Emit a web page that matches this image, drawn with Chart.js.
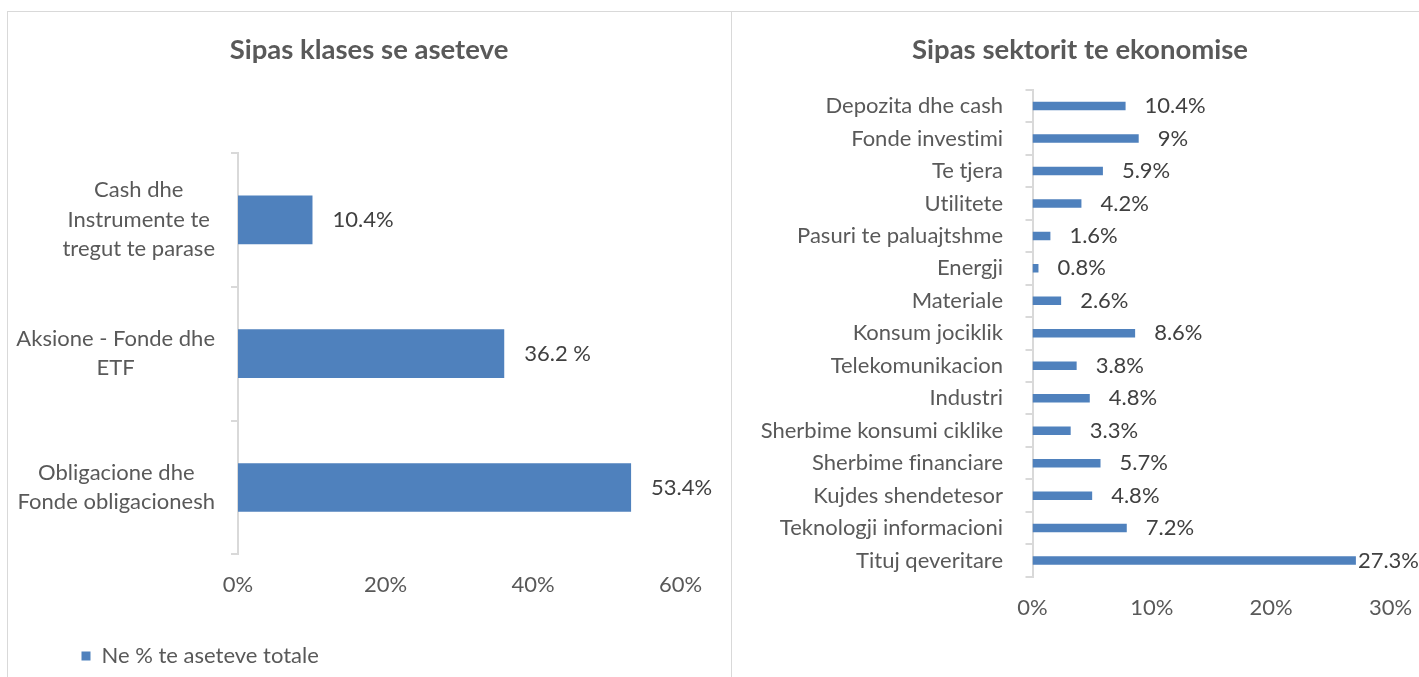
<!DOCTYPE html>
<html>
<head>
<meta charset="utf-8">
<script src="https://cdn.jsdelivr.net/npm/chart.js@4.4.1/dist/chart.umd.min.js"></script>
<style>
  html, body { margin: 0; padding: 0; background: #fff; }
  body { width: 1419px; height: 677px; position: relative; overflow: hidden; }
  .frame { position: absolute; left: 7px; top: 11px; width: 1420px; height: 680px;
           border-left: 1px solid #d9d9d9; border-top: 1px solid #d9d9d9; }
  .divider { position: absolute; left: 731px; top: 11px; width: 1px; height: 670px; background: #d9d9d9; }
  canvas { position: absolute; }
  #classChart { left: 9px; top: 12px; }
  #sectorChart { left: 732px; top: 12px; }
</style>
</head>
<body>
<div class="frame"></div>
<div class="divider"></div>
<canvas id="classChart" width="721" height="665"></canvas>
<canvas id="sectorChart" width="687" height="665"></canvas>
<script>
// Asset classes (left chart)
const classLabels = [
  ["Cash dhe", "Instrumente te", "tregut te parase"],
  ["Aksione - Fonde dhe", "ETF"],
  ["Obligacione dhe", "Fonde obligacionesh"]
];
const classValues = [10.1, 36.1, 53.3];
const classText = ["10.4%", "36.2 %", "53.4%"];
const classTicks = [0, 20, 40, 60];

// Economic sectors (right chart)
const sectorLabels = [
  "Depozita dhe cash", "Fonde investimi", "Te tjera", "Utilitete",
  "Pasuri te paluajtshme", "Energji", "Materiale", "Konsum jociklik",
  "Telekomunikacion", "Industri", "Sherbime konsumi ciklike",
  "Sherbime financiare", "Kujdes shendetesor", "Teknologji informacioni",
  "Tituj qeveritare"
];
const sectorValues = [7.8, 8.9, 5.9, 4.1, 1.5, 0.5, 2.4, 8.6, 3.7, 4.8, 3.2, 5.7, 5.0, 7.9, 27.1];
const sectorText = ["10.4%", "9%", "5.9%", "4.2%", "1.6%", "0.8%", "2.6%", "8.6%",
  "3.8%", "4.8%", "3.3%", "5.7%", "4.8%", "7.2%", "27.3%"];
const sectorTicks = [0, 10, 20, 30];

const FONT = "Lato";
const TEXT = "#595959";
const LABEL = "#404040";
const BLUE = "#4f81bd";
const AXIS = "#d9d9d9";

// no "ti" ligatures (Lato has them, the original font doesn't)
const plainText = {
  id: "plainText",
  beforeDraw(chart) { chart.ctx.textRendering = "optimizeSpeed"; }
};

// chart heading, centred on the panel rather than on the padded box
const heading = {
  id: "heading",
  afterDraw(chart, args, opts) {
    const ctx = chart.ctx;
    ctx.save();
    ctx.font = "bold " + opts.size + "px " + FONT;
    ctx.fillStyle = TEXT;
    ctx.textAlign = "center";
    ctx.textBaseline = "middle";
    ctx.fillText(opts.text, opts.cx, opts.cy);
    ctx.restore();
  }
};

// value labels drawn at the end of each bar
const valueLabels = {
  id: "valueLabels",
  afterDatasetsDraw(chart, args, opts) {
    const ctx = chart.ctx;
    const meta = chart.getDatasetMeta(0);
    ctx.save();
    ctx.font = opts.size + "px " + FONT;
    ctx.fillStyle = LABEL;
    ctx.textBaseline = "middle";
    ctx.textAlign = "left";
    meta.data.forEach((bar, i) => {
      const txt = opts.texts[i];
      const w = ctx.measureText(txt).width;
      let x = bar.x + opts.offset;
      x = Math.min(x, chart.width - w);
      ctx.fillText(txt, x, bar.y);
    });
    ctx.restore();
  }
};

// multi-line category labels, lines centred inside a right-aligned block
const blockLabels = {
  id: "blockLabels",
  afterDraw(chart, args, opts) {
    if (!opts.lines) return;
    const ctx = chart.ctx;
    const yScale = chart.scales.y;
    ctx.save();
    ctx.font = opts.size + "px " + FONT;
    ctx.fillStyle = TEXT;
    ctx.textBaseline = "middle";
    ctx.textAlign = "center";
    opts.lines.forEach((lines, i) => {
      const cy = yScale.getPixelForValue(i);
      const bw = Math.max(...lines.map(l => ctx.measureText(l).width));
      const cx = yScale.right - opts.gap - bw / 2;
      const y0 = cy - (lines.length - 1) * opts.lineHeight / 2;
      lines.forEach((l, k) => ctx.fillText(l, cx, y0 + k * opts.lineHeight));
    });
    ctx.restore();
  }
};

function makeChart(id, cfg) {
  return new Chart(document.getElementById(id), {
    type: "bar",
    data: {
      labels: cfg.labels,
      datasets: [{
        label: "Ne % te aseteve totale",
        data: cfg.values,
        backgroundColor: BLUE,
        borderWidth: 0,
        categoryPercentage: 1,
        barPercentage: cfg.barPct
      }]
    },
    plugins: [plainText, heading, valueLabels, blockLabels],
    options: {
      indexAxis: "y",
      responsive: false,
      animation: false,
      layout: { padding: cfg.padding },
      scales: {
        x: {
          min: 0,
          max: cfg.ticks[cfg.ticks.length - 1],
          afterBuildTicks: (s) => { s.ticks = cfg.ticks.map(v => ({ value: v })); },
          afterFit: (s) => { s.height = cfg.xHeight; },
          grid: { display: false, drawTicks: false },
          border: { display: false },
          ticks: {
            padding: 0,
            color: TEXT,
            // tall line box pushes the labels down without widening the side padding
            font: { family: FONT, size: 22, lineHeight: 2.79 },
            callback: (v) => v + "%"
          }
        },
        y: {
          afterFit: (s) => { s.width = cfg.yWidth; },
          grid: { drawOnChartArea: false, offset: true, tickLength: 7, color: AXIS, lineWidth: 2 },
          border: { display: true, color: AXIS, width: 2 },
          ticks: {
            display: cfg.showTicks,
            padding: 22.5,
            color: TEXT,
            font: { family: FONT, size: 22 }
          }
        }
      },
      plugins: {
        title: { display: false },
        heading: { text: cfg.title, cx: cfg.titleX, cy: 38, size: 27.5 },
        legend: {
          display: cfg.legend,
          position: "bottom",
          align: "start",
          labels: {
            color: TEXT,
            font: { family: FONT, size: 22 },
            boxWidth: 9,
            boxHeight: 9,
            padding: 24
          }
        },
        tooltip: { enabled: false },
        valueLabels: { texts: cfg.texts, offset: cfg.labelOffset, size: 22 },
        blockLabels: { lines: cfg.blockLines, size: 22, gap: 23, lineHeight: 29.5 }
      }
    }
  });
}

makeChart("classChart", {
  labels: classLabels.map(l => l.join(" ")),
  values: classValues,
  texts: classText,
  ticks: classTicks,
  title: "Sipas klases se aseteve",
  titleX: 360,
  barPct: 0.363,
  padding: { left: 48.5, right: 49.5, top: 141, bottom: 0 },
  yWidth: 180.5,
  xHeight: 66.7,
  legend: true,
  showTicks: false,
  blockLines: classLabels,
  labelOffset: 20
});

makeChart("sectorChart", {
  labels: sectorLabels,
  values: sectorValues,
  texts: sectorText,
  ticks: sectorTicks,
  title: "Sipas sektorit te ekonomise",
  titleX: 348,
  barPct: 0.262,
  padding: { left: 0, right: 28.5, top: 77.8, bottom: 0 },
  yWidth: 300.5,
  xHeight: 100.2,
  legend: false,
  showTicks: true,
  blockLines: null,
  labelOffset: 19
});
</script>
</body>
</html>
